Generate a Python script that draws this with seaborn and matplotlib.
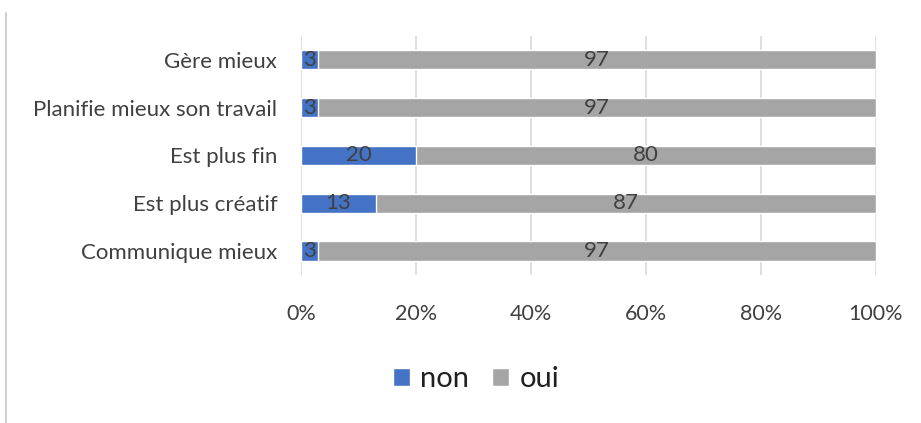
import numpy as np
import pandas as pd
import matplotlib.pyplot as plt
import seaborn as sns
from matplotlib.patches import Patch
from matplotlib.lines import Line2D

categories = ["Gère mieux", "Planifie mieux son travail", "Est plus fin",
              "Est plus créatif", "Communique mieux"]
non = [3, 3, 20, 13, 3]
oui = [97, 97, 80, 87, 97]
ticks = [0, 20, 40, 60, 80, 100]

blue = "#4472C4"
grey = "#A5A5A5"
text_col = "#404040"

sns.set_theme(style="white")
plt.rcParams['font.family'] = ['Lato', 'DejaVu Sans']

df = pd.DataFrame({"cat": categories, "non": non, "oui": oui})
df["total"] = df["non"] + df["oui"]

fig = plt.figure(figsize=(9.21, 4.23), dpi=100)
ax = fig.add_axes([0.3268, 0.350, 0.6243, 0.565])

# grey = full stack, blue drawn over it
sns.barplot(data=df, x="total", y="cat", color=grey, width=0.4,
            orient="h", ax=ax, saturation=1, zorder=2)
sns.barplot(data=df, x="non", y="cat", color=blue, width=0.4,
            orient="h", ax=ax, saturation=1, zorder=3)

# value labels in the middle of each segment
for i, (n, o) in enumerate(zip(non, oui)):
    ax.text(n / 2, i, str(n), ha="center", va="center", fontsize=16,
            color=text_col, zorder=4)
    ax.text(n + o / 2, i, str(o), ha="center", va="center", fontsize=16,
            color=text_col, zorder=4)

ax.set_xlim(0, 100)
ax.set_xticks(ticks)
ax.set_xticklabels([f"{t}%" for t in ticks], fontsize=15.5, color=text_col)
ax.tick_params(axis="x", pad=21, length=0)
ax.tick_params(axis="y", labelsize=16, labelcolor=text_col, length=0, pad=17)
ax.set_xlabel("")
ax.set_ylabel("")
ax.xaxis.grid(True, color="#D9D9D9", linewidth=1.2, zorder=0)
ax.set_axisbelow(True)
for s in ax.spines.values():
    s.set_visible(False)

handles = [Patch(facecolor=blue, label="non"), Patch(facecolor=grey, label="oui")]
fig.legend(handles=handles, loc="center", bbox_to_anchor=(0.517, 0.104),
           ncol=2, frameon=False, fontsize=21, handlelength=0.58,
           handleheight=0.58, handletextpad=0.34, columnspacing=0.8,
           labelcolor="#202020")

# left border of the original frame
fig.add_artist(Line2D([0.0065, 0.0065], [0.0, 0.97], color="#D0D0D0",
                      linewidth=1.5, transform=fig.transFigure))

fig.savefig("out.png", dpi=100)
